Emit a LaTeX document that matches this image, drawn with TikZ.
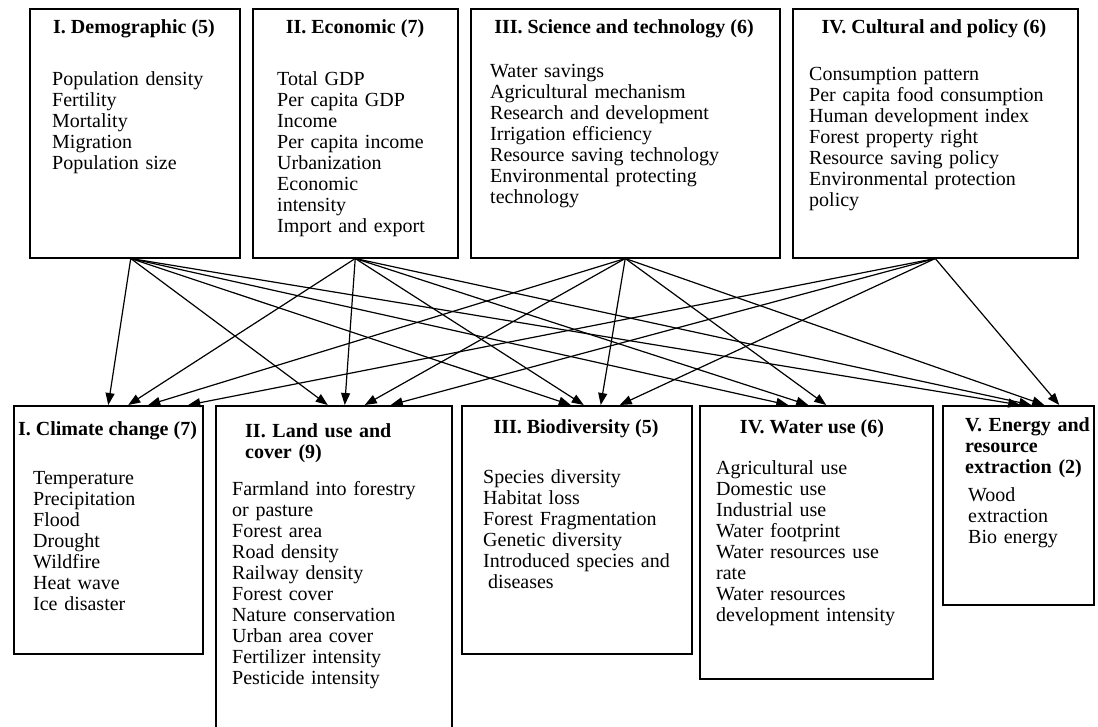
\documentclass[tikz,border=0pt]{standalone}
\usepackage{fontspec}
\setmainfont{Liberation Serif}
\usetikzlibrary{arrows.meta,positioning}

\tikzset{
  factorbox/.style={rectangle,draw,line width=1.5pt,inner sep=0pt,anchor=north west},
  boxtitle/.style={font=\fontsize{20}{21}\selectfont\bfseries,inner sep=0pt,anchor=base},
  boxtitlel/.style={font=\fontsize{20}{21}\selectfont\bfseries,inner sep=0pt,anchor=base west,text width=200pt,align=left},
  itemlist/.style={font=\fontsize{20}{21}\selectfont,inner sep=0pt,anchor=base west,text width=300pt,align=left},
  driver/.style={-{Triangle[length=12pt,width=9pt]},line width=1.2pt}
}

\begin{document}
\begin{tikzpicture}[x=1pt,y=-1pt]
\useasboundingbox (0,0) rectangle (1098,726);
%driving forces
\node(demo) [factorbox,minimum width=210pt,minimum height=249pt] at (29,8) {};
\node(econ) [factorbox,minimum width=205pt,minimum height=249pt] at (252,8) {};
\node(scitech) [factorbox,minimum width=309pt,minimum height=249pt] at (470,8) {};
\node(culture) [factorbox,minimum width=285pt,minimum height=249pt] at (792,8) {};

\node(demo-title) [boxtitle] at (134,33) {I. Demographic (5)};
\node(demo-items) [itemlist] at (52,85) {Population density\\
Fertility\\
Mortality\\
Migration\\
Population size};

\node(econ-title) [boxtitle] at (355,33) {II. Economic (7)};
\node(econ-items) [itemlist] at (277,85) {Total GDP\\
Per capita GDP\\
Income\\
Per capita income\\
Urbanization\\
Economic\\
intensity\\
Import and export};

\node(scitech-title) [boxtitle] at (624,33) {III. Science and technology (6)};
\node(scitech-items) [itemlist] at (490,77) {Water savings\\
Agricultural mechanism\\
Research and development\\
Irrigation efficiency\\
Resource saving technology\\
Environmental protecting\\
technology};

\node(culture-title) [boxtitle] at (934,33) {IV. Cultural and policy (6)};
\node(culture-items) [itemlist] at (809,80) {Consumption pattern\\
Per capita food consumption\\
Human development index\\
Forest property right\\
Resource saving policy\\
Environmental protection\\
policy};

%impacts
\node(climate) [factorbox,minimum width=189pt,minimum height=248pt] at (13,405) {};
\node(landuse) [factorbox,minimum width=236pt,minimum height=330pt] at (215,405) {};
\node(biodiv) [factorbox,minimum width=230pt,minimum height=248pt] at (461,405) {};
\node(water) [factorbox,minimum width=233pt,minimum height=273pt] at (699,405) {};
\node(energy) [factorbox,minimum width=151pt,minimum height=199pt] at (942,405) {};

\node(climate-title) [boxtitle] at (107.5,435) {I. Climate change (7)};
\node(climate-items) [itemlist] at (33,484) {Temperature\\
Precipitation\\
Flood\\
Drought\\
Wildfire\\
Heat wave\\
Ice disaster};

\node(landuse-title) [boxtitlel] at (245,437) {II. Land use and\\
cover (9)};
\node(landuse-items) [itemlist] at (232,495) {Farmland into forestry\\
or pasture\\
Forest area\\
Road density\\
Railway density\\
Forest cover\\
Nature conservation\\
Urban area cover\\
Fertilizer intensity\\
Pesticide intensity};

\node(biodiv-title) [boxtitle] at (576,433) {III. Biodiversity (5)};
\node(biodiv-items) [itemlist] at (483,483) {Species diversity\\
Habitat loss\\
Forest Fragmentation\\
Genetic diversity\\
Introduced species and\\
\hspace*{5pt}diseases};

\node(water-title) [boxtitle] at (812,433) {IV. Water use (6)};
\node(water-items) [itemlist] at (716,474) {Agricultural use\\
Domestic use\\
Industrial use\\
Water footprint\\
Water resources use\\
rate\\
Water resources\\
development intensity};

\node(energy-title) [boxtitlel] at (965,431) {V. Energy and\\
resource\\
extraction (2)};
\node(energy-items) [itemlist] at (968,501) {Wood\\
extraction\\
Bio energy};

%links
\draw[driver] ([xshift=-4pt]demo.south) -- (climate.north);
\draw[driver] ([xshift=-4pt]demo.south) -- ([xshift=-6pt]landuse.north);
\draw[driver] ([xshift=-4pt]demo.south) -- ([xshift=-6pt]biodiv.north);
\draw[driver] ([xshift=-4pt]demo.south) -- ([xshift=-28pt]water.north);
\draw[driver] ([xshift=-4pt]demo.south) -- ([xshift=2pt]energy.north);

\draw[driver] (econ.south) -- ([xshift=20pt]climate.north);
\draw[driver] (econ.south) -- ([xshift=11pt]landuse.north);
\draw[driver] (econ.south) -- ([xshift=7pt]biodiv.north);
\draw[driver] (econ.south) -- ([xshift=-8pt]water.north);
\draw[driver] (econ.south) -- ([xshift=13pt]energy.north);

\draw[driver] (scitech.south) -- ([xshift=40pt]climate.north);
\draw[driver] (scitech.south) -- ([xshift=31pt]landuse.north);
\draw[driver] (scitech.south) -- ([xshift=24pt]biodiv.north);
\draw[driver] (scitech.south) -- ([xshift=10pt]water.north);
\draw[driver] (scitech.south) -- ([xshift=26pt]energy.north);

\draw[driver] (culture.south) -- ([xshift=80pt]climate.north);
\draw[driver] (culture.south) -- ([xshift=57pt]landuse.north);
\draw[driver] (culture.south) -- ([xshift=43pt]biodiv.north);
\draw[driver] (culture.south) -- ([xshift=41pt]energy.north);
\end{tikzpicture}
\end{document}
